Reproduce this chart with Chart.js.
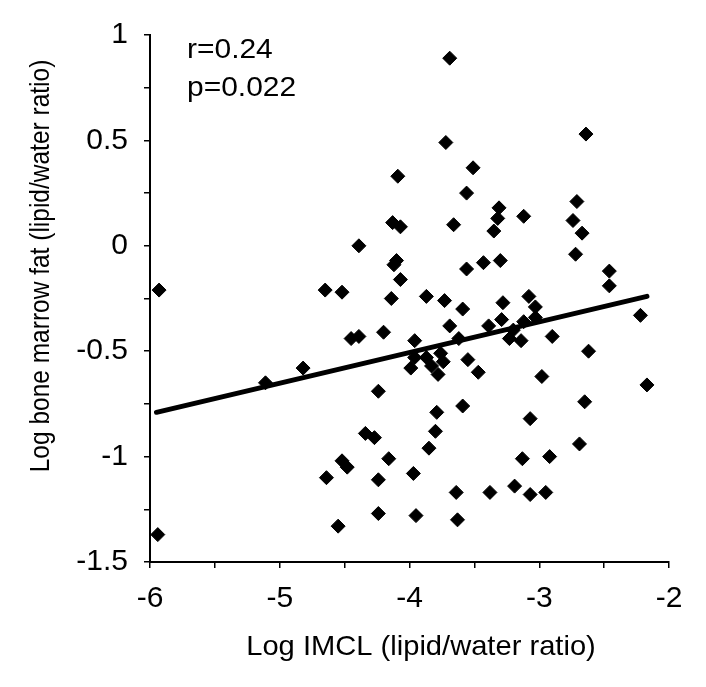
<!DOCTYPE html>
<html>
<head>
<meta charset="utf-8">
<script src="https://cdn.jsdelivr.net/npm/chart.js@4"></script>
<style>
  html, body { margin: 0; padding: 0; background: #ffffff; }
  #wrap { width: 706px; height: 687px; }
</style>
</head>
<body>
<div id="wrap"><canvas id="c" width="706" height="687"></canvas></div>
<script>
// Log IMCL (x) and Log bone marrow fat (y) per subject
const imclX = [
  -5.93, -5.94, -5.11, -4.82, -4.65, -4.52, -4.45, -4.39, -4.20, -4.24,
  -4.34, -4.27, -4.16, -4.52, -4.48, -4.64, -4.24, -3.97, -4.24, -4.55,
  -3.95, -4.09, -4.13, -4.07, -4.39, -4.10, -4.12, -4.07, -4.14, -3.69,
  -3.72, -3.51, -3.56, -3.31, -3.32, -3.35, -3.66, -3.56, -3.43, -3.30,
  -3.87, -3.73, -3.59, -3.28, -3.29, -3.39, -3.69, -3.96, -3.62, -3.99,
  -3.96, -3.87, -3.83, -3.76, -3.74, -3.78, -3.55, -3.47, -3.79, -3.59,
  -3.80, -3.85, -3.64, -3.38, -3.63, -3.19, -3.08, -3.03, -3.12, -3.03,
  -3.23, -3.14, -2.90, -2.62, -2.22, -2.98, -2.17, -2.65, -3.07, -2.69,
  -3.13, -2.92, -3.07, -2.95, -2.64, -2.71, -2.74, -2.67, -2.72, -3.12,
  -2.46, -2.46, -3.20
];
const marrowY = [
  -0.21, -1.37, -0.65, -0.58, -0.21, -0.22, -0.44, -0.43, -0.41, -0.69,
  -0.89, -0.91, -1.01, -1.02, -1.05, -1.10, -1.11, -1.08, -1.27, -1.33,
  -1.28, 0.33, 0.11, 0.09, 0.00, -0.07, -0.09, -0.16, -0.25, 0.89,
  0.49, 0.37, 0.25, 0.18, 0.13, 0.07, 0.10, -0.11, -0.08, -0.07,
  -0.24, -0.26, -0.30, -0.27, -0.35, -0.38, -0.38, -0.45, -0.44, -0.58,
  -0.53, -0.53, -0.57, -0.51, -0.55, -0.61, -0.54, -0.60, -0.79, -0.76,
  -0.88, -0.96, -1.17, -1.17, -1.30, -1.14, -0.24, -0.29, -0.36, -0.34,
  -0.44, -0.45, -0.43, -0.50, -0.33, -0.62, -0.66, -0.74, -0.82, -0.94,
  -1.01, -1.00, -1.18, -1.17, 0.53, 0.21, 0.12, 0.06, -0.04, 0.14,
  -0.12, -0.19, -0.40
];
// Regression line end points
const fitX = [-5.95, -2.17];
const fitY = [-0.79, -0.24];
// Tick labels
const xTickValues = [-6, -5, -4, -3, -2];
const xTickLabels = ['-6', '-5', '-4', '-3', '-2'];
const yTickValues = [1, 0.5, 0, -0.5, -1, -1.5];
const yTickLabels = ['1', '0.5', '0', '-0.5', '-1', '-1.5'];
const statLines = ['r=0.24', 'p=0.022'];
const xTitle = 'Log IMCL (lipid/water ratio)';
const yTitle = 'Log bone marrow fat (lipid/water ratio)';

const FONT = '"Liberation Sans", Arial, Helvetica, sans-serif';

function labelFor(v, vals, labels) {
  for (let i = 0; i < vals.length; i++) {
    if (Math.abs(vals[i] - v) < 1e-6) return labels[i];
  }
  return '';
}

const textPlugin = {
  id: 'texts',
  afterDraw(chart) {
    const ctx = chart.ctx;
    ctx.save();
    ctx.fillStyle = '#000';
    // r / p statistics
    ctx.font = '28px ' + FONT;
    ctx.textAlign = 'left';
    ctx.textBaseline = 'alphabetic';
    ctx.save();
    ctx.translate(187, 0);
    ctx.scale(1.07, 1);
    ctx.fillText(statLines[0], 0, 58);
    ctx.fillText(statLines[1], 0, 96);
    ctx.restore();
    // x axis title
    ctx.font = '28px ' + FONT;
    ctx.textAlign = 'center';
    ctx.textBaseline = 'middle';
    ctx.save();
    ctx.translate(421, 647);
    ctx.scale(1.04, 1);
    ctx.fillText(xTitle, 0, 0);
    ctx.restore();
    // y axis title
    ctx.font = '24.5px ' + FONT;
    ctx.save();
    ctx.translate(41, 266);
    ctx.rotate(-Math.PI / 2);
    ctx.scale(1, 1.15);
    ctx.fillText(yTitle, 0, 0);
    ctx.restore();
    ctx.restore();
  }
};

new Chart(document.getElementById('c'), {
  type: 'scatter',
  data: {
    datasets: [
      {
        type: 'scatter',
        data: imclX.map((x, i) => ({ x: x, y: marrowY[i] })),
        pointStyle: 'rectRot',
        pointRadius: 7,
        backgroundColor: '#000',
        borderColor: '#000',
        borderWidth: 1,
        order: 2
      },
      {
        type: 'line',
        data: fitX.map((x, i) => ({ x: x, y: fitY[i] })),
        borderColor: '#000',
        borderWidth: 5,
        pointRadius: 0,
        fill: false,
        borderCapStyle: 'round',
        order: 1
      }
    ]
  },
  options: {
    responsive: false,
    animation: false,
    events: [],
    layout: { padding: { left: 0, top: 35, right: 37, bottom: 0 } },
    plugins: { legend: { display: false }, tooltip: { enabled: false }, title: { display: false } },
    scales: {
      x: {
        type: 'linear',
        min: -6, max: -2,
        afterFit(s) { s.height = 125; },
        border: { display: true, color: '#000', width: 2 },
        grid: { display: true, drawOnChartArea: false, drawTicks: true, tickLength: 6, color: '#000', lineWidth: 1.5 },
        ticks: {
          stepSize: 0.5,
          color: '#000',
          font: { family: FONT, size: 30 },
          padding: 13,
          maxRotation: 0,
          autoSkip: false,
          callback: (v) => labelFor(v, xTickValues, xTickLabels)
        },
        title: { display: false }
      },
      y: {
        type: 'linear',
        min: -1.5, max: 1,
        afterFit(s) { s.width = 150; },
        border: { display: true, color: '#000', width: 2 },
        grid: { display: true, drawOnChartArea: false, drawTicks: true, tickLength: 6, color: '#000', lineWidth: 1.5 },
        ticks: {
          stepSize: 0.25,
          color: '#000',
          font: { family: FONT, size: 30 },
          padding: 16,
          autoSkip: false,
          callback: (v) => labelFor(v, yTickValues, yTickLabels)
        },
        title: { display: false }
      }
    }
  },
  plugins: [textPlugin]
});
</script>
</body>
</html>
